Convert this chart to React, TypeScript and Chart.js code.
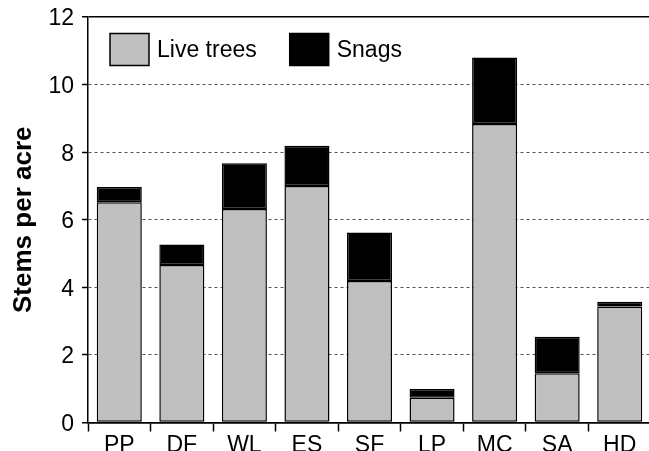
import React, { useEffect, useRef } from "react";
import { Chart, registerables } from "chart.js";

Chart.register(...registerables);

const categories = ["PP", "DF", "WL", "ES", "SF", "LP", "MC", "SA", "HD"];
const liveTrees = [6.52, 4.66, 6.32, 7.0, 4.19, 0.73, 8.83, 1.46, 3.43];
const snags = [0.45, 0.61, 1.35, 1.19, 1.43, 0.26, 1.97, 1.08, 0.14];
const seriesNames = ["Live trees", "Snags"];
const yTicks = [0, 2, 4, 6, 8, 10, 12];

const FONT = "Arial, 'Liberation Sans', Helvetica, sans-serif";

const insideLegend = {
  id: "insideLegend",
  afterDraw(chart: any) {
    const { ctx, chartArea } = chart;
    ctx.save();
    ctx.font = `23px ${FONT}`;
    ctx.textBaseline = "middle";
    ctx.textAlign = "left";
    let x = chartArea.left + 22;
    const boxTop = chartArea.top + 16.5;
    const boxW = 39;
    const boxH = 32;
    chart.data.datasets.forEach((ds: any) => {
      ctx.fillStyle = ds.backgroundColor;
      ctx.fillRect(x, boxTop, boxW, boxH);
      ctx.strokeStyle = "#000";
      ctx.lineWidth = 1.5;
      ctx.strokeRect(x, boxTop, boxW, boxH);
      ctx.fillStyle = "#000";
      const tx = x + boxW + 8;
      ctx.fillText(ds.label, tx, boxTop + boxH / 2 + 1);
      x = tx + ctx.measureText(ds.label).width + 33;
    });
    ctx.restore();
  },
};

export default function App() {
  const ref = useRef<HTMLCanvasElement>(null);
  useEffect(() => {
    if (!ref.current) return;
    const chart = new Chart(ref.current, {
      type: "bar",
      data: {
        labels: categories,
        datasets: [
          {
            label: seriesNames[0],
            data: liveTrees,
            backgroundColor: "#c0c0c0",
            borderColor: "#000",
            borderWidth: 1.5,
            borderSkipped: false,
            barPercentage: 0.72,
            categoryPercentage: 1,
          },
          {
            label: seriesNames[1],
            data: snags,
            backgroundColor: "#000",
            borderColor: "#000",
            borderWidth: 1.5,
            borderSkipped: false,
            barPercentage: 0.72,
            categoryPercentage: 1,
          },
        ],
      },
      plugins: [insideLegend],
      options: {
        responsive: false,
        animation: false,
        layout: { padding: { top: 17, left: 0, right: 0, bottom: 0 } },
        plugins: {
          legend: { display: false },
          tooltip: { enabled: false },
        },
        scales: {
          x: {
            stacked: true,
            offset: true,
            grid: {
              display: true,
              drawOnChartArea: false,
              drawTicks: true,
              tickLength: 9,
              tickColor: "#000",
              tickWidth: 1.5,
              offset: true,
            },
            border: { display: true, color: "#000", width: 1.5 },
            ticks: {
              color: "#000",
              padding: 0,
              font: { family: FONT, size: 23 },
              maxRotation: 0,
              autoSkip: false,
            },
            afterFit(scale: any) {
              scale.height = 28.5;
              scale.paddingLeft = 0;
              scale.paddingRight = 0;
            },
          },
          y: {
            stacked: true,
            min: yTicks[0],
            max: yTicks[yTicks.length - 1],
            afterBuildTicks(scale: any) {
              scale.ticks = yTicks.map((v) => ({ value: v }));
            },
            grid: {
              display: true,
              drawTicks: true,
              tickLength: 6,
              tickColor: "#000",
              tickWidth: 1.5,
              color: (c: any) =>
                c.tick && (c.tick.value === 12 || c.tick.value === 0) ? "#000" : "#555",
              lineWidth: (c: any) =>
                c.tick && (c.tick.value === 12 || c.tick.value === 0) ? 1.5 : 1,
            },
            border: {
              display: true,
              color: "#000",
              width: 1.5,
              dash: (c: any) =>
                c.tick && c.tick.value !== 12 && c.tick.value !== 0 ? [3, 3] : [],
            },
            ticks: {
              color: "#000",
              padding: 8,
              labelOffset: 2,
              font: { family: FONT, size: 23 },
            },
            title: {
              display: true,
              text: "Stems per acre",
              color: "#000",
              font: { family: FONT, size: 26, weight: "bold" },
              padding: { top: 8, bottom: 0 },
            },
            afterFit(scale: any) {
              scale.width = 88;
              scale.paddingTop = 0;
              scale.paddingBottom = 0;
            },
          },
        },
      },
    } as any);
    return () => chart.destroy();
  }, []);
  return (
    <div
      style={{
        position: "fixed",
        left: 0,
        top: 0,
        width: 649,
        height: 451,
        overflow: "hidden",
        background: "#fff",
      }}
    >
      <canvas ref={ref} width={651} height={451} style={{ width: 651, height: 451, display: "block" }} />
    </div>
  );
}
